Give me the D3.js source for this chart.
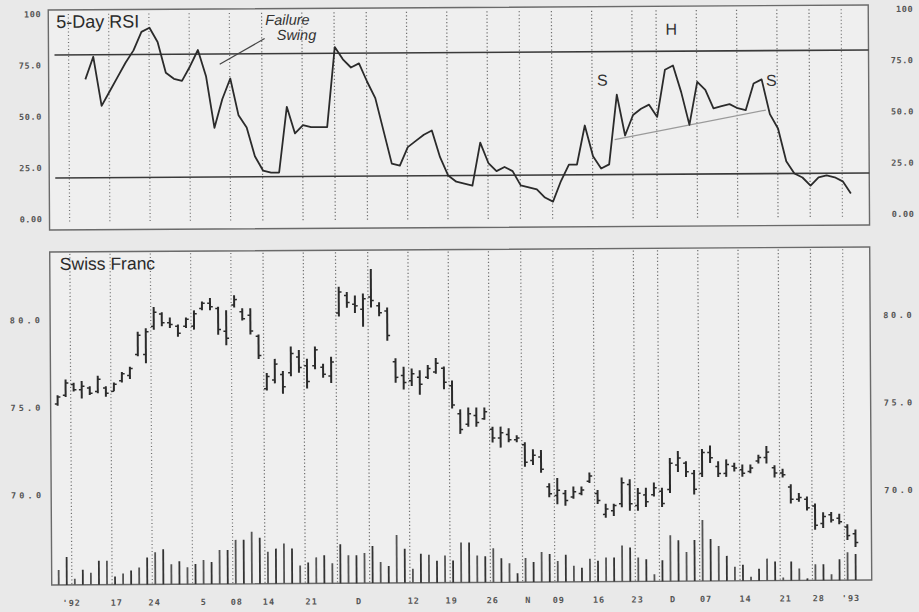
<!DOCTYPE html>
<html>
<head>
<meta charset="utf-8">
<script src="https://cdn.jsdelivr.net/npm/d3@7"></script>
<style>
  html, body { margin: 0; padding: 0; background: #e9e9e9; }
  svg { display: block; }
</style>
</head>
<body>
<svg id="chart" width="919" height="612"></svg>
<script>
// ---------------- DATA ----------------
// Daily bars (trading days), index 0..99
const highs = [75.7,76.6,76.4,76.5,76.2,76.8,76.2,76.4,77.0,77.3,
  79.3,79.5,80.7,80.4,80.1,79.7,80.1,80.5,81.0,81.2,
  80.7,80.5,81.35,80.6,80.6,79.1,76.9,77.7,77.0,78.4,
  78.2,77.7,78.4,77.4,77.8,81.8,81.5,81.3,81.4,82.8,
  80.9,80.6,77.7,77.2,77.1,77.0,77.3,77.7,77.2,76.4,
  74.75,74.85,74.85,74.85,73.75,73.75,73.65,73.25,72.85,72.45,
  72.4,70.5,70.8,70.1,70.3,70.3,71.1,70.1,69.3,69.3,
  70.8,70.7,70.2,70.2,70.5,70.2,71.9,72.3,71.7,71.2,
  72.4,72.6,71.7,71.8,71.6,71.5,71.5,72.05,72.55,71.45,
  71.25,70.35,69.85,69.65,69.25,68.75,68.75,68.65,68.05,67.75];
const lows = [75.1,75.6,75.9,75.5,75.7,75.8,75.6,75.9,76.4,76.6,
  77.9,77.5,79.4,79.6,79.5,79.0,79.5,79.4,80.5,80.5,
  79.1,78.5,80.65,79.9,79.1,77.7,75.9,76.3,75.7,76.7,
  76.9,76.0,77.1,76.6,76.3,80.1,80.6,80.3,79.5,80.6,
  80.1,78.7,76.3,75.9,76.1,75.6,76.5,76.8,75.9,74.8,
  73.35,73.75,73.75,74.15,72.85,72.55,72.85,72.85,71.45,71.55,
  71.1,69.7,69.3,69.2,69.6,69.8,70.5,69.3,68.5,68.6,
  69.1,68.9,68.9,69.1,69.7,69.1,69.9,71.1,70.8,69.8,
  70.8,71.6,70.8,70.8,71.1,70.8,71.0,71.55,71.55,70.75,
  70.75,69.25,69.35,68.85,67.75,67.85,68.15,68.05,67.15,66.75];
const opens = [75.2,75.7,76.3,76.0,76.1,75.9,76.1,75.9,76.5,76.8,
  78.0,78.0,79.6,80.3,79.8,79.6,79.6,79.6,80.6,80.9,
  80.6,79.3,80.8,80.4,80.2,79.0,76.0,76.5,76.8,76.9,
  77.8,77.3,77.3,77.2,76.7,80.3,81.3,80.8,80.5,81.2,
  80.7,80.4,77.5,76.7,76.4,76.6,76.6,76.9,77.1,76.1,
  74.5,73.9,74.4,74.2,73.6,73.1,73.3,73.0,72.7,71.8,
  72.0,70.3,69.8,69.9,69.7,69.9,70.6,69.9,68.7,68.9,
  69.3,70.4,69.2,69.8,69.8,70.0,70.1,71.5,71.6,71.0,
  71.0,72.2,71.4,71.0,71.4,71.2,71.1,71.7,71.9,71.3,
  71.0,70.2,69.5,69.5,69.1,68.1,68.6,68.4,67.9,67.5];
const closes = [75.6,76.4,76.0,76.2,75.8,76.6,75.8,76.3,76.9,77.2,
  79.1,79.3,80.4,79.8,79.7,79.2,80.0,80.3,80.9,80.7,
  79.4,78.9,81.1,80.0,79.3,77.9,76.7,77.4,76.1,78.0,
  77.2,76.4,78.2,76.8,77.5,81.5,80.9,80.7,81.1,81.0,
  80.3,79.0,76.6,76.3,76.8,76.2,77.1,77.4,76.3,75.0,
  73.6,74.5,74.0,74.6,73.1,73.4,73.0,73.1,71.7,72.1,
  71.3,69.9,70.1,69.5,70.0,70.1,70.9,69.5,69.0,69.2,
  70.5,69.3,69.9,69.4,70.2,69.3,71.6,71.9,71.1,70.1,
  72.2,71.9,71.0,71.5,71.3,71.0,71.3,71.9,72.2,71.0,
  70.9,69.5,69.6,69.0,68.0,68.5,68.3,68.2,67.4,67.0];
const volumes = [15,28,6,15,12,24,24,8,11,14,
  17,27,32,35,20,23,17,20,24,22,
  34,34,44,44,52,46,32,35,40,35,
  18,21,26,28,20,39,28,28,30,37,
  21,17,48,34,14,29,28,22,27,22,
  40,40,27,26,34,24,19,9,24,20,
  30,28,21,27,16,14,23,21,24,24,
  36,34,24,22,7,21,46,41,29,41,
  61,42,35,25,14,16,4,12,22,19,
  3,19,12,2,16,16,6,21,28,26];
// 5-day RSI (first four days undefined)
const rsi = [null,null,null,null,68,79,55,62,69,76,
  82,91,93,86,71,68,67,74,82,69,
  44,58,68,50,44,30,23,22,22,54,
  41,45,44,44,44,83,77,73,75,66,
  58,42,26,25,34,37,40,42,29,20,
  17,16,15,36,26,22,24,22,15,14,
  13,9,7,17,25,25,44,29,23,25,
  59,39,49,52,54,48,71,73,60,44,
  65,61,52,53,54,52,51,64,66,49,
  42,26,20,18,14,18,19,18,16,10];
const rsiLevels = [80, 20];
const rsiTicks = [0, 25, 50, 75, 100];
const rsiTickLabels = ["0.00", "25.0", "50.0", "75.0", "100"];
const priceTicks = [70, 75, 80];
const priceTickLabels = ["70.0", "75.0", "80.0"];
// week grid (bar index of each week start)
const gridDays = [2,7,12,17,22,26,31,35,39,44,49,54,58,62,67,72,75,80,85,90,94,98];
// date labels and their bar positions
const dateLabels = ["'92","17","24","5","08","14","21","D","12","19","26","N","09","16","23","D","07","14","21","28","'93"];
const datePos = [1.6,7.2,11.9,18.0,22.1,26.1,31.4,37.3,44.1,48.8,53.9,58.3,62.1,67.1,71.9,76.3,80.4,85.3,90.3,94.4,98.4];
// head-and-shoulders neckline (bar index, RSI value)
const neckline = [[69.7, 37], [88.5, 51]];
// annotations (bar index, RSI value)
const annotations = [
  {t: "H", i: 76.8, v: 88},
  {t: "S", i: 68.2, v: 63.4},
  {t: "S", i: 89.2, v: 62.7}
];
const failureText = [{t: "Failure", i: 26.4, v: 94}, {t: "Swing", i: 27.8, v: 86.6}];
const failurePointer = [[26.3, 87.4], [20.7, 75]];

// ---------------- LAYOUT ----------------
const svg = d3.select("#chart");
const root = svg.append("g").attr("transform", "rotate(-0.35, 50, 300)");

const pTop = {x0: 50, x1: 870, y0: 10, y1: 230};
const pBot = {x0: 50, x1: 870, y0: 252, y1: 585};

const x = d3.scaleLinear().domain([0, 99]).range([57, 854]);
const xTop = d3.scaleLinear().domain([0, 99]).range([54.5, 851.5]);
const yR = d3.scaleLinear().domain([0, 100]).range([219, 14]);
const yP = d3.scaleLinear().domain([70, 80]).range([495, 320]);
const yV = d3.scaleLinear().domain([0, 60]).range([585, 525]);

const ink = "#2b2b2b";
const monoFont = "'DejaVu Sans Mono', 'Liberation Mono', monospace";
const sansFont = "'Liberation Sans', Arial, Helvetica, sans-serif";

// panels
[pTop, pBot].forEach(p => {
  root.append("rect")
    .attr("x", p.x0).attr("y", p.y0)
    .attr("width", p.x1 - p.x0).attr("height", p.y1 - p.y0)
    .attr("fill", "#efefef")
    .attr("stroke", "#6a6a6a").attr("stroke-width", 1.4);
});

// grid lines
root.append("g").selectAll("line").data(gridDays).join("line")
  .attr("x1", d => xTop(d) - 0.5).attr("x2", d => xTop(d) - 0.5)
  .attr("y1", pTop.y0 + 4).attr("y2", pTop.y1 - 8)
  .attr("stroke", "#6f6f6f").attr("stroke-width", 1.2)
  .attr("stroke-dasharray", "1.2,2.3");
root.append("g").selectAll("line").data(gridDays).join("line")
  .attr("x1", d => x(d) - 3).attr("x2", d => x(d) - 3)
  .attr("y1", pBot.y0 + 2).attr("y2", pBot.y1)
  .attr("stroke", "#6f6f6f").attr("stroke-width", 1.2)
  .attr("stroke-dasharray", "1.2,2.3");

// RSI level lines
root.append("g").selectAll("line").data(rsiLevels).join("line")
  .attr("x1", pTop.x0 + 6).attr("x2", pTop.x1)
  .attr("y1", d => yR(d)).attr("y2", d => yR(d))
  .attr("stroke", "#3a3a3a").attr("stroke-width", 1.6);

// neckline
root.append("path")
  .datum(neckline)
  .attr("d", d3.line().x(d => xTop(d[0])).y(d => yR(d[1])))
  .attr("fill", "none").attr("stroke", "#9a9a9a").attr("stroke-width", 1.3);

// RSI line
const rsiPts = rsi.map((v, i) => [i, v]).filter(d => d[1] !== null);
root.append("path")
  .datum(rsiPts)
  .attr("d", d3.line().x(d => xTop(d[0])).y(d => yR(d[1])))
  .attr("fill", "none").attr("stroke", ink).attr("stroke-width", 1.8)
  .attr("stroke-linejoin", "round");

// RSI axes
const axL1 = root.append("g").attr("transform", `translate(${pTop.x0},0)`)
  .call(d3.axisLeft(yR).tickValues(rsiTicks).tickFormat((d, k) => rsiTickLabels[k]).tickSize(0).tickPadding(7));
const axR1 = root.append("g").attr("transform", `translate(${pTop.x1},0)`)
  .call(d3.axisRight(yR).tickValues(rsiTicks).tickFormat((d, k) => rsiTickLabels[k]).tickSize(0).tickPadding(45));
axR1.selectAll("text").attr("text-anchor", "end");
[axL1, axR1].forEach(a => {
  a.select(".domain").remove();
  a.selectAll("text").attr("font-family", monoFont).attr("font-size", 8.5)
    .attr("font-weight", "bold").attr("fill", "#555").attr("letter-spacing", 0.6);
});

// price axes
const axL2 = root.append("g").attr("transform", `translate(${pBot.x0},0)`)
  .call(d3.axisLeft(yP).tickValues(priceTicks).tickFormat((d, k) => priceTickLabels[k]).tickSize(0).tickPadding(7));
const axR2 = root.append("g").attr("transform", `translate(${pBot.x1},0)`)
  .call(d3.axisRight(yP).tickValues(priceTicks).tickFormat((d, k) => priceTickLabels[k]).tickSize(0).tickPadding(44));
axR2.selectAll("text").attr("text-anchor", "end");
axL2.selectAll("text").attr("letter-spacing", 3.2);
axR2.selectAll("text").attr("letter-spacing", 2.6);
[axL2, axR2].forEach(a => {
  a.select(".domain").remove();
  a.selectAll("text").attr("font-family", monoFont).attr("font-size", 8.5)
    .attr("font-weight", "bold").attr("fill", "#555");
});

// date axis
root.append("g").selectAll("text").data(dateLabels).join("text")
  .attr("x", (d, k) => x(datePos[k]))
  .attr("y", 606)
  .attr("text-anchor", "middle")
  .attr("font-family", monoFont).attr("font-size", 8.5).attr("font-weight", "bold")
  .attr("fill", "#555").attr("letter-spacing", 1)
  .text(d => d);

// volume bars
root.append("g").selectAll("line").data(volumes).join("line")
  .attr("x1", (d, i) => x(i)).attr("x2", (d, i) => x(i))
  .attr("y1", yV(0)).attr("y2", d => yV(d))
  .attr("stroke", (d, i) => i % 2 ? "#333" : "#555").attr("stroke-width", 1.8);

// OHLC bars
const bars = root.append("g").selectAll("g").data(highs).join("g");
bars.append("line")
  .attr("x1", (d, i) => x(i)).attr("x2", (d, i) => x(i))
  .attr("y1", (d, i) => yP(highs[i])).attr("y2", (d, i) => yP(lows[i]))
  .attr("stroke", ink).attr("stroke-width", 2);
bars.append("line")
  .attr("x1", (d, i) => x(i) - 2.8).attr("x2", (d, i) => x(i))
  .attr("y1", (d, i) => yP(opens[i])).attr("y2", (d, i) => yP(opens[i]))
  .attr("stroke", ink).attr("stroke-width", 1.5);
bars.append("line")
  .attr("x1", (d, i) => x(i)).attr("x2", (d, i) => x(i) + 2.8)
  .attr("y1", (d, i) => yP(closes[i])).attr("y2", (d, i) => yP(closes[i]))
  .attr("stroke", ink).attr("stroke-width", 1.5);

// titles
root.append("text").attr("x", 58).attr("y", 28)
  .attr("font-family", sansFont).attr("font-size", 18).attr("fill", "#2a2a2a")
  .text("5-Day RSI");
root.append("text").attr("x", 60).attr("y", 270)
  .attr("font-family", sansFont).attr("font-size", 17.5).attr("fill", "#2a2a2a")
  .text("Swiss Franc");

// annotations
root.append("g").selectAll("text").data(failureText).join("text")
  .attr("x", d => xTop(d.i)).attr("y", d => yR(d.v))
  .attr("font-family", sansFont).attr("font-size", 14.5).attr("font-style", "italic")
  .attr("fill", "#333").text(d => d.t);
root.append("path").datum(failurePointer)
  .attr("d", d3.line().x(d => xTop(d[0])).y(d => yR(d[1])))
  .attr("stroke", "#444").attr("stroke-width", 1.2).attr("fill", "none");
root.append("g").selectAll("text").data(annotations).join("text")
  .attr("x", d => xTop(d.i)).attr("y", d => yR(d.v))
  .attr("text-anchor", "middle")
  .attr("font-family", sansFont).attr("font-size", 16)
  .attr("fill", "#333").text(d => d.t);
</script>
</body>
</html>
